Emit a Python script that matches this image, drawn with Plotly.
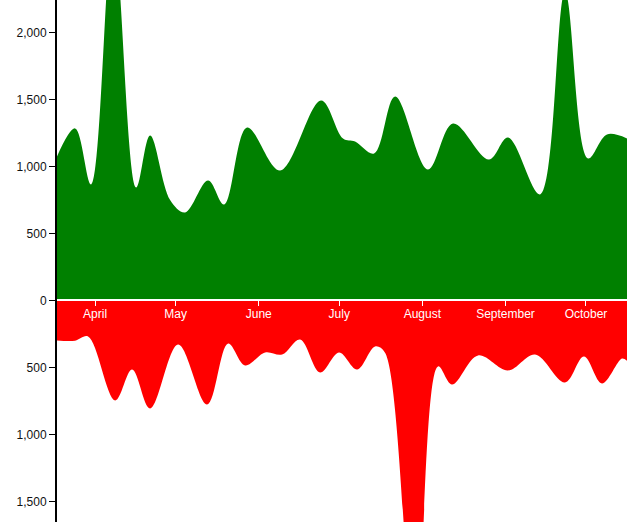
import plotly.graph_objects as go

# Incoming (green, above axis)
in_dates = [
    "2013-03-17 19:00", "2013-03-24 13:00", "2013-03-30 12:00", "2013-04-07 17:00",
    "2013-04-16 07:00", "2013-04-21 12:00", "2013-04-28 23:00", "2013-05-04 13:00",
    "2013-05-13 03:00", "2013-05-19 02:00", "2013-05-27 16:00", "2013-06-08 23:00",
    "2013-06-24 06:00", "2013-07-02 10:00", "2013-07-06 22:00", "2013-07-14 00:00",
    "2013-07-21 20:00", "2013-08-03 02:00", "2013-08-12 10:00", "2013-08-25 20:00",
    "2013-09-01 22:00", "2013-09-13 21:00", "2013-09-23 04:00", "2013-10-01 18:00",
    "2013-10-08 20:00", "2013-10-16 07:00",
]
in_values = [
    1075, 1284, 866, 2750,
    843, 1231, 750, 657,
    895, 716, 1291, 970,
    1493, 1209, 1187, 1097,
    1522, 978, 1321, 1052,
    1216, 791, 2300, 1060,
    1239, 1209,
]

# Outgoing (red, below axis)
out_dates = [
    "2013-03-17 19:00", "2013-03-24 13:00", "2013-03-29 09:00", "2013-04-08 11:00",
    "2013-04-14 19:00", "2013-04-21 12:00", "2013-05-01 23:00", "2013-05-12 18:00",
    "2013-05-20 14:00", "2013-05-26 22:00", "2013-06-03 09:00", "2013-06-09 17:00",
    "2013-06-16 10:00", "2013-06-23 21:00", "2013-06-30 23:00", "2013-07-07 16:00",
    "2013-07-14 09:00", "2013-07-18 02:00", "2013-07-29 06:00",
    "2013-08-06 20:00", "2013-08-12 01:00", "2013-08-21 18:00",
    "2013-09-01 22:00", "2013-09-12 00:00", "2013-09-23 04:00", "2013-09-30 06:00",
    "2013-10-06 23:00", "2013-10-14 10:00", "2013-10-16 07:00",
]
out_values = [
    298, 300, 269, 746,
    515, 806, 328, 776,
    321, 485, 388, 403,
    291, 537, 388, 515,
    343, 390, 2500,
    492, 627, 410,
    522, 403, 612, 418,
    619, 433, 450,
]

month_ticks = ["2013-04-01", "2013-05-01", "2013-06-01", "2013-07-01",
               "2013-08-01", "2013-09-01", "2013-10-01"]
month_labels = ["April", "May", "June", "July", "August", "September", "October"]

y_tickvals = [-1500, -1000, -500, 0, 500, 1000, 1500, 2000]
y_ticktext = [f"{abs(v):,}" for v in y_tickvals]

y_min, y_max = -1653, 2242
x_range = ["2013-03-17 19:00", "2013-10-16 07:00"]

fig = go.Figure()
fig.add_trace(go.Scatter(
    x=in_dates, y=in_values, mode="lines",
    line=dict(shape="spline", smoothing=1, width=0, color="#008000"),
    fill="tozeroy", fillcolor="#008000", hoverinfo="skip",
))
fig.add_trace(go.Scatter(
    x=out_dates, y=[-v for v in out_values], mode="lines",
    line=dict(shape="spline", smoothing=1, width=0, color="#ff0000"),
    fill="tozeroy", fillcolor="#ff0000", hoverinfo="skip",
))

zero_pos = (0 - y_min) / (y_max - y_min)

fig.update_layout(
    width=627, height=522,
    margin=dict(l=57, r=0, t=0, b=0, autoexpand=False),
    paper_bgcolor="white", plot_bgcolor="white",
    showlegend=False,
    font=dict(family="Arial, Liberation Sans, sans-serif", size=12, color="#111"),
    xaxis=dict(
        type="date", range=x_range,
        anchor="free", position=zero_pos,
        showgrid=False, zeroline=False,
        showline=True, linecolor="white", linewidth=2,
        ticks="outside", ticklen=5, tickwidth=1, tickcolor="white",
        tickvals=month_ticks, ticktext=month_labels,
        ticklabelstandoff=-3,
        tickfont=dict(color="white", size=12, family="Arial, Liberation Sans, sans-serif"),
        fixedrange=True,
    ),
    yaxis=dict(
        range=[y_min, y_max],
        showgrid=False, zeroline=False,
        showline=True, linecolor="black", linewidth=2,
        ticks="outside", ticklen=6, tickwidth=1, tickcolor="black",
        tickvals=y_tickvals, ticktext=y_ticktext,
        tickfont=dict(color="#111", size=12, family="Arial, Liberation Sans, sans-serif"),
        fixedrange=True,
    ),
)

fig.write_html(
    "out.html",
    config={"displayModeBar": False},
    post_script="document.body.style.margin='0';document.body.style.overflow='hidden';",
)
